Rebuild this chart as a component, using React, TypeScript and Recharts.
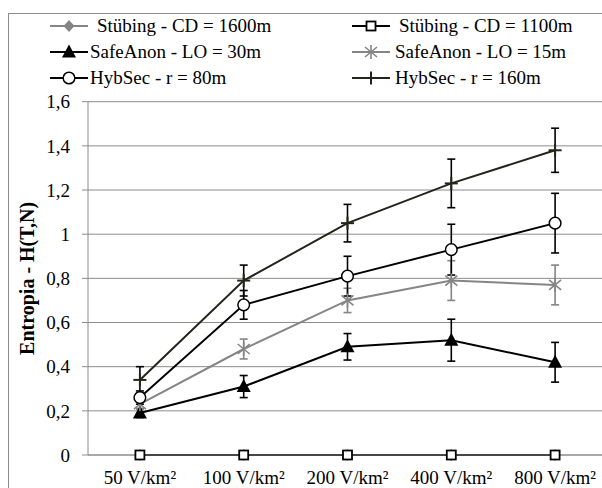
import React from "react";
import {
  LineChart,
  Line,
  XAxis,
  YAxis,
  CartesianGrid,
  ErrorBar,
  Legend,
} from "recharts";

const categories = ["50 V/km²", "100 V/km²", "200 V/km²", "400 V/km²", "800 V/km²"];

const stubing1600 = [0, 0, 0, 0, 0];
const stubing1100 = [0, 0, 0, 0, 0];
const safeAnon30 = [0.19, 0.31, 0.49, 0.52, 0.42];
const safeAnon30Err = [0.02, 0.05, 0.06, 0.095, 0.09];
const safeAnon15 = [0.23, 0.48, 0.7, 0.79, 0.77];
const safeAnon15Err = [0.02, 0.045, 0.055, 0.09, 0.09];
const hybSec80 = [0.26, 0.68, 0.81, 0.93, 1.05];
const hybSec80Err = [0.03, 0.065, 0.09, 0.115, 0.135];
const hybSec160 = [0.34, 0.79, 1.05, 1.23, 1.38];
const hybSec160Err = [0.06, 0.07, 0.085, 0.11, 0.1];

const yTicks = [0, 0.2, 0.4, 0.6, 0.8, 1, 1.2, 1.4, 1.6];
const edgeTicks = [0, 1, 2, 3, 4, 5];

const data = categories.map((name, i) => ({
  name,
  s1600: stubing1600[i],
  s1100: stubing1100[i],
  sa30: safeAnon30[i],
  sa30Err: safeAnon30Err[i],
  sa15: safeAnon15[i],
  sa15Err: safeAnon15Err[i],
  hs80: hybSec80[i],
  hs80Err: hybSec80Err[i],
  hs160: hybSec160[i],
  hs160Err: hybSec160Err[i],
}));

const FONT = "'Liberation Serif', 'Times New Roman', serif";
const GRID = "#8c8c8c";
const GRAY = "#858585";
const DARK = "#24241a";

type Shape = "diamond" | "square" | "triangle" | "star" | "circle" | "plus";

const series: {
  key: string;
  name: string;
  color: string;
  shape: Shape;
  errKey?: string;
  errColor?: string;
}[] = [
  { key: "s1600", name: "Stübing - CD = 1600m", color: GRAY, shape: "diamond" },
  { key: "s1100", name: "Stübing - CD = 1100m", color: "#000", shape: "square" },
  { key: "sa30", name: "SafeAnon - LO = 30m", color: "#000", shape: "triangle", errKey: "sa30Err", errColor: "#000" },
  { key: "sa15", name: "SafeAnon - LO = 15m", color: GRAY, shape: "star", errKey: "sa15Err", errColor: GRAY },
  { key: "hs80", name: "HybSec - r = 80m", color: "#000", shape: "circle", errKey: "hs80Err", errColor: "#000" },
  { key: "hs160", name: "HybSec - r = 160m", color: DARK, shape: "plus", errKey: "hs160Err", errColor: "#000" },
];

function Marker({ shape, cx, cy, color }: { shape: Shape; cx: number; cy: number; color: string }) {
  if (cx == null || cy == null) return null;
  switch (shape) {
    case "diamond":
      return (
        <polygon
          points={`${cx},${cy - 6} ${cx + 5.5},${cy} ${cx},${cy + 6} ${cx - 5.5},${cy}`}
          fill={color}
        />
      );
    case "square":
      return <rect x={cx - 4.5} y={cy - 4.5} width={9} height={9} fill="#fff" stroke="#000" strokeWidth={1.8} />;
    case "triangle":
      return (
        <polygon
          points={`${cx},${cy - 7.5} ${cx + 7},${cy + 5.5} ${cx - 7},${cy + 5.5}`}
          fill="#000"
        />
      );
    case "star":
      return (
        <g stroke={color} strokeWidth={1.6}>
          <line x1={cx - 6} y1={cy - 5} x2={cx + 6} y2={cy + 5} />
          <line x1={cx - 6} y1={cy + 5} x2={cx + 6} y2={cy - 5} />
          <line x1={cx} y1={cy - 7} x2={cx} y2={cy + 7} />
        </g>
      );
    case "circle":
      return <circle cx={cx} cy={cy} r={5.8} fill="#fff" stroke="#000" strokeWidth={1.5} />;
    case "plus":
      return (
        <g stroke={color} strokeWidth={2}>
          <line x1={cx - 6.5} y1={cy} x2={cx + 6.5} y2={cy} />
          <line x1={cx} y1={cy - 6.5} x2={cx} y2={cy + 6.5} />
        </g>
      );
  }
  return null;
}

function LegendIcon({ shape, color }: { shape: Shape; color: string }) {
  return (
    <svg width={38} height={20} style={{ display: "block" }}>
      <line x1={0} y1={10} x2={38} y2={10} stroke={color} strokeWidth={2} />
      <Marker shape={shape} cx={19} cy={10} color={color} />
    </svg>
  );
}

const legendSlots = [
  { iconLeft: 42, textLeft: 89, top: 0 },
  { iconLeft: 344, textLeft: 391, top: 0 },
  { iconLeft: 42, textLeft: 82, top: 26 },
  { iconLeft: 344, textLeft: 387, top: 26 },
  { iconLeft: 42, textLeft: 82, top: 52 },
  { iconLeft: 344, textLeft: 387, top: 52 },
];

function ChartLegend() {
  return (
    <div style={{ position: "relative", width: 594, height: 78, fontFamily: FONT, fontSize: 19 }}>
      {series.map((s, i) => {
        const slot = legendSlots[i];
        return (
          <div key={s.key}>
            <div style={{ position: "absolute", left: slot.iconLeft, top: slot.top + 3 }}>
              <LegendIcon shape={s.shape} color={s.color} />
            </div>
            <div
              style={{
                position: "absolute",
                left: slot.textLeft,
                top: slot.top,
                height: 26,
                lineHeight: "26px",
                whiteSpace: "nowrap",
                color: "#000",
              }}
            >
              {s.name}
            </div>
          </div>
        );
      })}
    </div>
  );
}

function YLabel(props: any) {
  const vb = props.viewBox || {};
  const x = (vb.x ?? 0) + 19;
  const y = (vb.y ?? 0) + (vb.height ?? 0) / 2;
  return (
    <text
      x={x}
      y={y}
      transform={`rotate(-90 ${x} ${y})`}
      textAnchor="middle"
      dominantBaseline="central"
      fontFamily={FONT}
      fontSize={20}
      fontWeight="bold"
      fill="#000"
    >
      Entropia - H(T,N)
    </text>
  );
}

const formatY = (v: number) => String(v).replace(".", ",");

export default function App() {
  return (
    <div
      style={{
        position: "absolute",
        left: 8,
        top: 13,
        width: 594,
        height: 475,
        overflow: "hidden",
        fontFamily: FONT,
      }}
    >
      <div
        style={{
          position: "absolute",
          left: 0,
          top: 0,
          width: 2000,
          height: 2000,
          borderLeft: `1px solid ${GRID}`,
          borderTop: `1px solid ${GRID}`,
          pointerEvents: "none",
        }}
      />
      <LineChart
        width={599}
        height={475}
        data={data}
        margin={{ top: 10.7, right: 0, bottom: 0, left: 0 }}
      >
        <Legend
          verticalAlign="top"
          align="left"
          height={78}
          wrapperStyle={{ top: 0, left: 0 }}
          content={() => <ChartLegend />}
        />
        <CartesianGrid vertical={false} stroke={GRID} strokeWidth={1} />
        <XAxis
          xAxisId="edges"
          type="number"
          domain={[0, 5]}
          ticks={edgeTicks}
          tick={false}
          axisLine={false}
          tickLine={{ stroke: GRID }}
          tickSize={6}
          height={0}
        />
        <XAxis
          dataKey="name"
          scale="band"
          axisLine={{ stroke: GRID }}
          tickLine={false}
          tickSize={6}
          tickMargin={10}
          height={33}
          interval={0}
          tick={{ fill: "#000", fontSize: 19, fontFamily: FONT }}
        />
        <YAxis
          width={80}
          domain={[0, 1.6]}
          ticks={yTicks}
          tickFormatter={formatY}
          axisLine={{ stroke: GRID }}
          tickLine={{ stroke: GRID }}
          tickSize={6}
          tickMargin={12}
          tick={{ fill: "#000", fontSize: 19, fontFamily: FONT }}
          label={{ value: "Entropia - H(T,N)", content: YLabel }}
        />
        {series.map((s) => (
          <Line
            key={s.key}
            dataKey={s.key}
            name={s.name}
            stroke={s.color}
            strokeWidth={2}
            isAnimationActive={false}
            activeDot={false}
            dot={(p: any) => (
              <Marker key={`${s.key}-${p.index}`} shape={s.shape} cx={p.cx} cy={p.cy} color={s.color} />
            )}
          >
            {s.errKey && (
              <ErrorBar
                dataKey={s.errKey}
                direction="y"
                width={4}
                stroke={s.errColor}
                strokeWidth={1.6}
                isAnimationActive={false}
              />
            )}
          </Line>
        ))}
      </LineChart>
    </div>
  );
}
